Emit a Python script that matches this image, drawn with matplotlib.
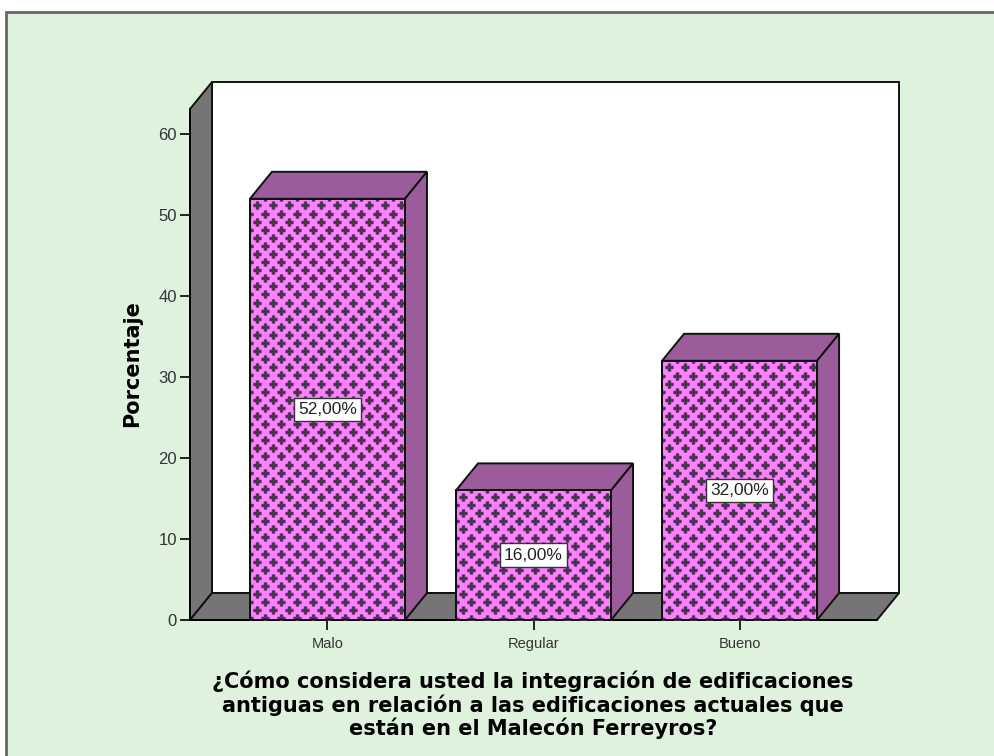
import matplotlib
matplotlib.use("Agg")
import matplotlib.pyplot as plt
import numpy as np
from matplotlib.patches import Polygon, Rectangle
from matplotlib.transforms import Affine2D

categories = ["Malo", "Regular", "Bueno"]
values = [52.0, 16.0, 32.0]
value_labels = ["52,00%", "16,00%", "32,00%"]
y_ticks = [0, 10, 20, 30, 40, 50, 60]

xlabel = ("¿Cómo considera usted la integración de edificaciones\n"
          "antiguas en relación a las edificaciones actuales que\n"
          "están en el Malecón Ferreyros?")

W, H = 994, 756
GREEN = "#def2de"
PURPLE = "#9b5c9b"
PINK = "#ff80ff"
WALL = "#757575"
DARK = "#111111"

fig = plt.figure(figsize=(W / 100, H / 100), dpi=100, facecolor="white")
plt.rcParams["font.family"] = ["Liberation Sans", "DejaVu Sans"]

# pixel transform, y going down like in the reference
px = Affine2D().scale(1, -1).translate(0, H)

fig.patches.append(Rectangle((6, 12), W, H, transform=px, fc=GREEN, ec="#666666", lw=2, zorder=-1))

# axes = the front plane of the 3D box
left, right, bottom, top = 190, 877, 620, 109
ax = fig.add_axes([left / W, 1 - bottom / H, (right - left) / W, (bottom - top) / H])
ax.patch.set_visible(False)
ax.set_xlim(-0.667, 2.667)
ax.set_ylim(0, (bottom - top) / 8.1)
for s in ["top", "right"]:
    ax.spines[s].set_visible(False)
ax.spines["bottom"].set_linewidth(1.3)
ax.spines["left"].set_linewidth(1.3)

# depth of the box, in data units
ddx = 22 / 206
ddy = 27 / 8.1
ymax = ax.get_ylim()[1]
x0, x1 = ax.get_xlim()


def poly(points, fc, z):
    ax.add_patch(Polygon(points, closed=True, fc=fc, ec=DARK, lw=1.4, zorder=z, clip_on=False))


poly([(x0 + ddx, ddy), (x1 + ddx, ddy), (x1 + ddx, ymax + ddy), (x0 + ddx, ymax + ddy)], "white", 1)
poly([(x0, 0), (x0 + ddx, ddy), (x0 + ddx, ymax + ddy), (x0, ymax)], WALL, 1.1)
poly([(x0, 0), (x1, 0), (x1 + ddx, ddy), (x0 + ddx, ddy)], WALL, 1.1)

bars = ax.bar(range(3), values, width=155 / 206, color=PINK, edgecolor=DARK, linewidth=1.4, zorder=3)

for i, (bar, v) in enumerate(zip(bars, values)):
    a = bar.get_x()
    b = a + bar.get_width()
    poly([(a, v), (b, v), (b + ddx, v + ddy), (a + ddx, v + ddy)], PURPLE, 2.5)
    poly([(b, 0), (b + ddx, ddy), (b + ddx, v + ddy), (b, v)], PURPLE, 2.5)

    # cross fill pattern, staggered lattice clipped to the bar
    xs, ys = [], []
    ax_left = left + (a - x0) * 206
    top_px = bottom - v * 8.1
    for r, yy in enumerate(np.arange(top_px - 1.5, bottom + 8, 8.1)):
        off = 7 if r % 2 else 15
        for xx in np.arange(ax_left + off - 16, ax_left + bar.get_width() * 206 + 8, 16):
            xs.append(xx)
            ys.append(yy)
    pts = ax.scatter(xs, ys, marker="P", s=27, color="#46324f", edgecolors="#46324f", linewidths=0.7,
                     transform=px, zorder=3.1)
    pts.set_snap(False)
    pts.set_clip_path(bar)
    ax.add_patch(Rectangle((a, 0), bar.get_width(), v, fc="none", ec=DARK, lw=1.4, zorder=3.2))

    ax.text(i, v / 2, value_labels[i], ha="center", va="center", fontsize=12.5, color="#222222", zorder=4,
            bbox=dict(boxstyle="square,pad=0.25", fc="white", ec="#333333", lw=1))

ax.set_yticks(y_ticks)
ax.set_xticks(range(3))
ax.set_xticklabels(categories)
ax.tick_params(axis="y", length=7.5, width=1.2, labelsize=12, pad=2, labelcolor="#333333")
ax.tick_params(axis="x", length=7, width=1.2, labelsize=10.5, pad=5.5, labelcolor="#333333")

fig.text(132 / W, 1 - 364 / H, "Porcentaje", rotation=90, ha="center", va="center",
         fontsize=15, fontweight="bold", color="black", family="DejaVu Sans")
fig.text(533 / W, 1 - 705 / H, xlabel, ha="center", va="center", fontsize=15, fontweight="bold",
         color="black", linespacing=1.1, family="DejaVu Sans")

fig.savefig("out.png", dpi=100, facecolor=fig.get_facecolor())
